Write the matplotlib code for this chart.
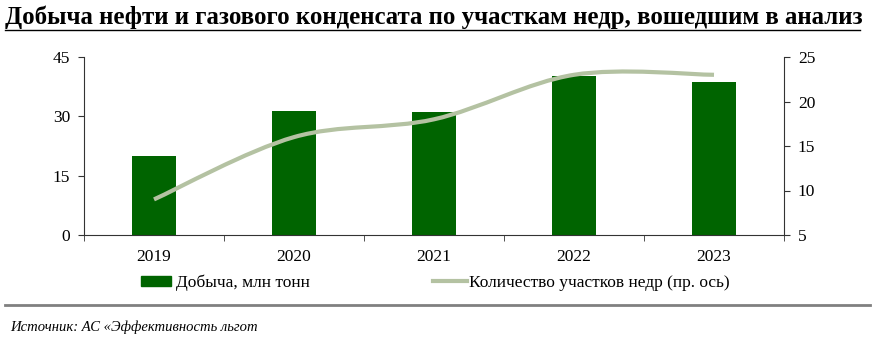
import matplotlib.pyplot as plt
import matplotlib.patches as mpatches
from matplotlib.path import Path
from matplotlib.lines import Line2D
import numpy as np

years = ['2019', '2020', '2021', '2022', '2023']
dobycha = [20.0, 31.4, 31.0, 40.2, 38.8]
uchastki = [9, 16, 18, 23, 23]

plt.rcParams['font.family'] = ['Liberation Serif', 'DejaVu Serif']

fig = plt.figure(figsize=(8.75, 3.42), dpi=100)
ax = fig.add_axes([84/875, 1-235/342, 700/875, 178/342])
x = np.arange(len(years))
ax.bar(x, dobycha, width=0.31, color='#006400', zorder=2)
ax.set_xlim(-0.5, len(years)-0.5)
ax.set_ylim(0, 45)
ax.set_yticks([0, 15, 30, 45])
ax.set_xticks(x)
ax.set_xticklabels(years)
ax.set_xticks(np.arange(len(years)+1)-0.5, minor=True)
ax.tick_params(axis='x', which='major', length=0, pad=10, labelsize=12.5)
ax.tick_params(axis='x', which='minor', length=4, direction='out', color='#333333')
ax.tick_params(axis='y', length=4, direction='out', labelsize=12.5, pad=6, color='#333333')
for s in ['top', 'right']:
    ax.spines[s].set_visible(False)
for s in ['left', 'bottom']:
    ax.spines[s].set_color('#333333')

ax2 = ax.twinx()
ax2.set_ylim(5, 25)
ax2.set_yticks([5, 10, 15, 20, 25])
ax2.tick_params(axis='y', length=4, direction='out', labelsize=12.5, pad=6, color='#333333')
for s in ['top', 'left', 'bottom']:
    ax2.spines[s].set_visible(False)
ax2.spines['right'].set_color('#333333')

# smoothed line (Catmull-Rom as cubic Bezier)
px = list(x)
py = list(uchastki)
verts = [(px[0], py[0])]
codes = [Path.MOVETO]
n = len(px)
for i in range(n-1):
    p0 = (px[max(i-1, 0)], py[max(i-1, 0)])
    p1 = (px[i], py[i])
    p2 = (px[i+1], py[i+1])
    p3 = (px[min(i+2, n-1)], py[min(i+2, n-1)])
    c1 = (p1[0] + (p2[0]-p0[0])/6, p1[1] + (p2[1]-p0[1])/6)
    c2 = (p2[0] - (p3[0]-p1[0])/6, p2[1] - (p3[1]-p1[1])/6)
    verts += [c1, c2, p2]
    codes += [Path.CURVE4]*3
ax2.add_patch(mpatches.PathPatch(Path(verts, codes), fill=False,
                                 edgecolor='#b4c2a2', lw=3, capstyle='butt', zorder=3))

h1 = mpatches.Patch(color='#006400')
h2 = Line2D([], [], color='#b4c2a2', lw=3)
fig.legend([h1], ['Добыча, млн тонн'], loc='center left',
           bbox_to_anchor=(141/875, 1-283/342), frameon=False, fontsize=12.5,
           handlelength=1.75, handleheight=0.5, handletextpad=0.25, borderaxespad=0,
           borderpad=0)
fig.legend([h2], ['Количество участков недр (пр. ось)'], loc='center left',
           bbox_to_anchor=(433/875, 1-283/342), frameon=False, fontsize=12.5,
           handlelength=1.95, handletextpad=0.12, borderaxespad=0, borderpad=0)

fig.text(5/875, 1-17/342, 'Добыча нефти и газового конденсата по участкам недр, вошедшим в анализ',
         fontsize=17.9, fontweight='bold', va='center', ha='left')
fig.add_artist(Line2D([5/875, 860/875], [1-30/342, 1-30/342], color='black', lw=1))
fig.add_artist(Line2D([5/875, 870/875], [1-305/342, 1-305/342], color='#808080', lw=2))
fig.text(10/875, 1-327/342, 'Источник: АС «Эффективность льгот', fontsize=10.5,
         style='italic', va='center', ha='left')

fig.savefig('out.png', dpi=100)
